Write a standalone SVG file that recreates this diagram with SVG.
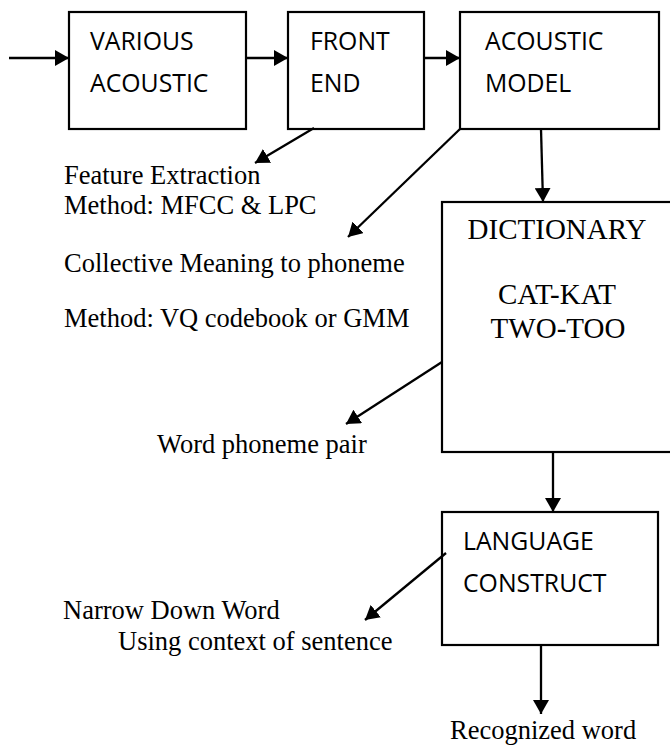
<svg xmlns="http://www.w3.org/2000/svg" width="670" height="746" viewBox="0 0 670 746">
  <style>
    .box { fill: #fff; stroke: #000; stroke-width: 2.2; }
    .lbl { font-family: "Open Sans", "Liberation Sans", sans-serif; font-size: 24.8px; fill: #000; }
    .note { font-family: "Liberation Serif", "Times New Roman", serif; font-size: 26.5px; fill: #000; }
    .dict { font-family: "Liberation Serif", "Times New Roman", serif; font-size: 29px; fill: #000; }
    .conn { fill: none; stroke: #000; stroke-width: 2.3; marker-end: url(#arrow); }
  </style>
  <defs>
    <marker id="arrow" viewBox="0 0 14 16" refX="14" refY="8" markerWidth="14" markerHeight="16" markerUnits="userSpaceOnUse" orient="auto">
      <path d="M0,0 L14,8 L0,16 Z" fill="#000"/>
    </marker>
  </defs>
  <rect width="670" height="746" fill="#fff"/>

  <g id="various-acoustic">
    <rect class="box" x="69" y="12" width="177" height="117"/>
    <text class="lbl" x="90" y="50">VARIOUS</text>
    <text class="lbl" x="90" y="92">ACOUSTIC</text>
  </g>

  <g id="front-end">
    <rect class="box" x="288" y="12" width="136" height="117"/>
    <text class="lbl" x="310" y="50">FRONT</text>
    <text class="lbl" x="310" y="92">END</text>
  </g>

  <g id="acoustic-model">
    <rect class="box" x="460" y="12" width="199" height="117"/>
    <text class="lbl" x="485" y="50">ACOUSTIC</text>
    <text class="lbl" x="485" y="92">MODEL</text>
  </g>

  <g id="dictionary">
    <rect class="box" x="442" y="202" width="232" height="250"/>
    <text class="dict" x="557" y="239" text-anchor="middle">DICTIONARY</text>
    <text class="dict" x="557" y="304" text-anchor="middle">CAT-KAT</text>
    <text class="dict" x="558" y="338" text-anchor="middle">TWO-TOO</text>
  </g>

  <g id="language-construct">
    <rect class="box" x="442" y="512" width="216" height="133"/>
    <text class="lbl" x="463" y="550">LANGUAGE</text>
    <text class="lbl" x="463" y="592">CONSTRUCT</text>
  </g>

  <g id="notes">
    <text class="note" x="64" y="184">Feature Extraction</text>
    <text class="note" x="64" y="214">Method: MFCC &amp; LPC</text>
    <text class="note" x="64" y="272">Collective Meaning to phoneme</text>
    <text class="note" x="64" y="327">Method: VQ codebook or GMM</text>
    <text class="note" x="157" y="453">Word phoneme pair</text>
    <text class="note" x="63" y="619">Narrow Down Word</text>
    <text class="note" x="118" y="650">Using context of sentence</text>
    <text class="note" x="450" y="739">Recognized word</text>
  </g>

  <g id="connectors">
    <line class="conn" x1="9" y1="58" x2="69" y2="58"/>
    <line class="conn" x1="246" y1="58" x2="288" y2="58"/>
    <line class="conn" x1="424" y1="58" x2="460" y2="58"/>
    <line class="conn" x1="314" y1="128" x2="255" y2="163"/>
    <line class="conn" x1="460" y1="129" x2="348" y2="237"/>
    <line class="conn" x1="541" y1="129" x2="543" y2="202"/>
    <line class="conn" x1="442" y1="362" x2="346" y2="424"/>
    <line class="conn" x1="553" y1="452" x2="553" y2="512"/>
    <line class="conn" x1="446" y1="553" x2="365" y2="620"/>
    <line class="conn" x1="541" y1="645" x2="541" y2="714"/>
  </g>
</svg>
